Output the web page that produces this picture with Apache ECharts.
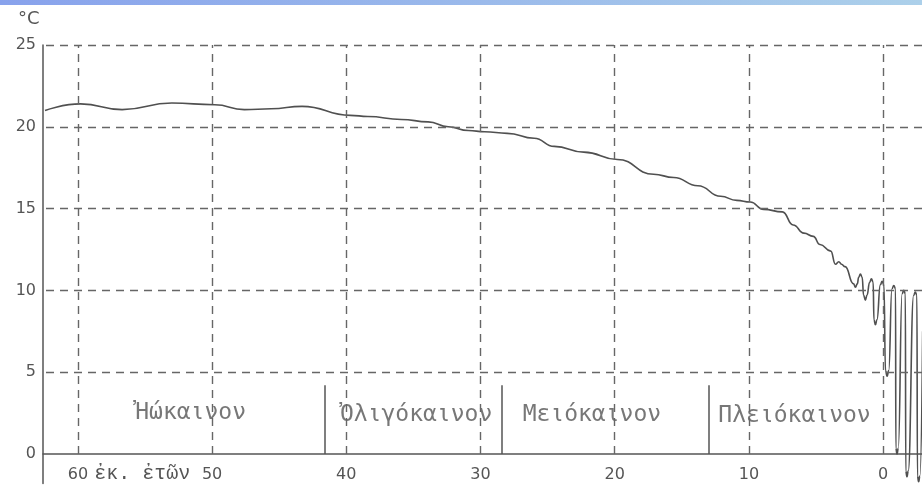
<!DOCTYPE html>
<html><head><meta charset="utf-8">
<script src="https://cdn.jsdelivr.net/npm/echarts@6/dist/echarts.min.js"></script>
<style>html,body{margin:0;padding:0;background:#fff}#c{width:922px;height:494px}</style>
</head><body><div id="c"></div>
<script>
// Tick values
const xTicks = [60, 50, 40, 30, 20, 10, 0];
const yTicks = [0, 5, 10, 15, 20, 25];
const gridY = [5, 10, 15, 20, 25];
// Curve: age (million years ago) and temperature (°C)
const ages = [
  62.45, 59.8, 56.7, 53.0, 49.8, 47.6, 45.6, 43.3, 39.7, 38.4, 35.9, 33.9, 32.4, 30.9, 29.7, 28.0,
  26.0, 24.5, 22.3, 19.8, 17.1, 15.6, 13.8, 12.1, 10.9, 9.9, 8.9, 7.5, 6.7, 5.9, 5.2, 4.7, 3.9,
  3.55, 3.3, 3.1, 2.83,
  2.2, 2.06, 1.92, 1.82, 1.69, 1.56, 1.45, 1.32, 1.2, 1.0, 0.87, 0.74,
  0.68, 0.57, 0.46, 0.2, 0.07, -0.06, -0.18, -0.3, -0.42, -0.66, -0.8, -0.93,
  -0.95, -1.04, -1.13, -1.42, -1.54, -1.66, -1.69, -1.78, -1.87, -2.28, -2.4, -2.52,
  -2.56, -2.65, -2.74, -2.95
];
const temps = [
  21.0, 21.4, 21.05, 21.45, 21.35, 21.05, 21.1, 21.25, 20.7, 20.63, 20.45, 20.3, 20.0, 19.77, 19.7, 19.6,
  19.3, 18.8, 18.45, 18.0, 17.1, 16.9, 16.4, 15.75, 15.5, 15.4, 14.95, 14.8, 14.0, 13.5, 13.3, 12.8, 12.4,
  11.6, 11.75, 11.6, 11.45,
  10.4, 10.2, 10.4, 10.8, 11.0, 10.8, 9.7, 9.4, 9.7, 10.5, 10.7, 10.5,
  8.2, 7.9, 8.2, 10.35, 10.55, 10.35, 5.1, 4.75, 5.1, 10.1, 10.3, 10.1,
  0.35, 0.0, 0.35, 9.8, 10.0, 9.8, -1.05, -1.4, -1.05, 9.7, 9.9, 9.7,
  -1.35, -1.7, -1.35, 7.5
];
// Epochs
const epochNames = ['Ἠώκαινον', 'Ὀλιγόκαινον', 'Μειόκαινον', 'Πλειόκαινον'];
const epochCenters = [51.6, 34.8, 21.7, 6.6];
const epochLabelTemp = [2.5, 2.4, 2.4, 2.3];
const boundaries = [41.6, 28.4, 13.0];
const boundaryTop = 4.2;
const unitLabel = 'ἐκ. ἐτῶν';
const unitAt = 55.2;
const yUnit = '°C';

const FONT = 'DejaVu Sans';
const INK = '#555';
const chart = echarts.init(document.getElementById('c'));
chart.setOption({
  backgroundColor: '#fff',
  animation: false,
  title: { text: yUnit, left: 13, top: 5, textStyle: { fontSize: 18, fontWeight: 'normal', color: INK, fontFamily: FONT } },
  graphic: [{
    type: 'rect', left: 0, top: 0, shape: { width: 922, height: 5 },
    style: { fill: new echarts.graphic.LinearGradient(0, 0, 1, 0, [{ offset: 0, color: '#88a2ec' }, { offset: 1, color: '#acd0ea' }]) }
  }],
  grid: { left: 43, right: 0, top: 45, bottom: 10.6, outerBoundsMode: 'none', containLabel: false },
  xAxis: [{
    type: 'value', min: -2.9, max: 62.6, inverse: true,
    axisLine: { onZero: true, lineStyle: { color: INK, width: 1.5 } },
    axisTick: { show: false }, splitLine: { show: false },
    axisLabel: { customValues: xTicks, color: INK, fontSize: 16, margin: -17, fontFamily: FONT }
  }, {
    type: 'value', min: -2.9, max: 62.6, inverse: true, position: 'bottom',
    axisLine: { show: false, onZero: true }, axisTick: { show: false }, splitLine: { show: false },
    axisLabel: { customValues: [unitAt], formatter: () => unitLabel, color: INK, fontSize: 20, margin: -20, fontFamily: 'Liberation Mono' }
  }],
  yAxis: {
    type: 'value', min: -1.8, max: 25,
    axisLine: { show: true, onZero: false, lineStyle: { color: INK, width: 1.5 } },
    axisTick: { show: false }, splitLine: { show: false },
    axisLabel: { customValues: yTicks, color: INK, fontSize: 16, margin: 7, fontFamily: FONT }
  },
  series: [{
    type: 'line', name: 'grid', data: [], silent: true,
    markLine: {
      silent: true, symbol: 'none', label: { show: false },
      lineStyle: { type: [8, 6], color: '#666', width: 1.4 },
      data: gridY.map(v => ({ yAxis: v })).concat(
        xTicks.map(v => [{ coord: [v, 0] }, { coord: [v, 25] }]))
    }
  }, {
    type: 'line', name: 'bounds', data: [], silent: true,
    markLine: {
      silent: true, symbol: 'none', label: { show: false },
      lineStyle: { type: 'solid', color: INK, width: 1.5 },
      data: boundaries.map(b => [{ coord: [b, 0] }, { coord: [b, boundaryTop] }])
    }
  }, {
    type: 'line', name: 'temp', showSymbol: false, smooth: 0.5, smoothMonotone: 'x', clip: false,
    data: ages.map((a, i) => [a, temps[i]]),
    lineStyle: { color: '#505050', width: 1.6 }
  }, {
    type: 'scatter', name: 'epochs', symbolSize: 1, itemStyle: { color: 'rgba(0,0,0,0)' },
    data: epochCenters.map((c, i) => ({ value: [c, epochLabelTemp[i]], name: epochNames[i] })),
    label: { show: true, position: 'inside', formatter: p => p.name, color: INK, fontSize: 23, fontFamily: 'DejaVu Sans Mono' }
  }]
});
</script></body></html>
